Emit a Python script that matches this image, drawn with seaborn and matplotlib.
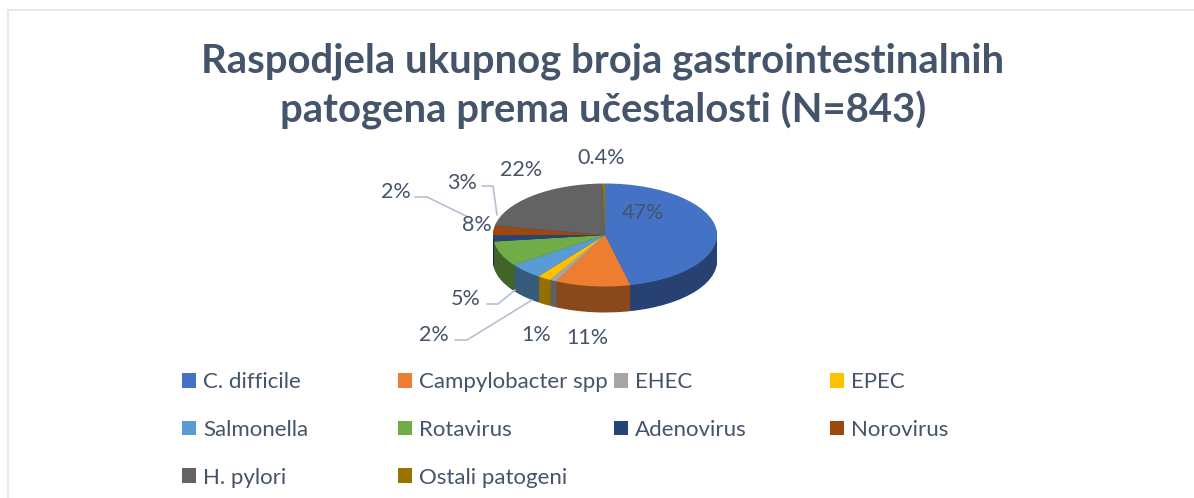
import numpy as np
import matplotlib
matplotlib.use("Agg")
import matplotlib.pyplot as plt
import matplotlib.colors as mcolors
from matplotlib.lines import Line2D
import seaborn as sns

# ---- data ----
pathogens = ["C. difficile", "Campylobacter spp", "EHEC", "EPEC", "Salmonella",
             "Rotavirus", "Adenovirus", "Norovirus", "H. pylori", "Ostali patogeni"]
shares = [47, 11, 1, 2, 5, 8, 2, 3, 22, 0.4]
share_labels = ["47%", "11%", "1%", "2%", "5%", "8%", "2%", "3%", "22%", "0.4%"]
title_lines = ["Raspodjela ukupnog broja gastrointestinalnih",
               "patogena prema učestalosti (N=843)"]

office_colors = ["#4472C4", "#ED7D31", "#A5A5A5", "#FFC000", "#5B9BD5",
                 "#70AD47", "#264478", "#9E480E", "#636363", "#997300"]

sns.set_theme(style="white")
plt.rcParams['font.family'] = ['Lato', 'DejaVu Sans']

top_colors = sns.color_palette(office_colors)
side_colors = [tuple(np.array(mcolors.to_rgb(c)) * 0.58) for c in top_colors]
text_color = "#44546A"

W, H = 1194, 498
fig = plt.figure(figsize=(W / 100, H / 100), dpi=100)
fig.patch.set_facecolor("white")


def fpos(x, y):
    # pixel position (from top-left) -> figure fraction
    return x / W, 1 - y / H


# chart frame (top and left edges visible)
fig.add_artist(Line2D([7.5 / W, 1.0], [1 - 10.5 / H] * 2, transform=fig.transFigure,
                      color="#E1E1EA", lw=1.2))
fig.add_artist(Line2D([7.5 / W] * 2, [0.0, 1 - 10.5 / H], transform=fig.transFigure,
                      color="#E1E1EA", lw=1.2))

# title
for line, yb in zip(title_lines, [72, 122]):
    fig.text(*fpos(603, yb), line, ha="center", va="baseline", fontsize=28.8,
             fontweight="bold", color=text_color)

# ---- pseudo 3D pie ----
cx, cy, rx, ry, depth = 605, 235, 112, 51.5, 26
ax = fig.add_axes([(cx - 2 * rx) / W, 1 - (cy + 3 * ry) / H, 4 * rx / W, 5 * ry / H])

for d in np.linspace(depth / ry, 0.02, 30):
    ax.pie(shares, colors=side_colors, startangle=90, counterclock=False,
           center=(0, -d), wedgeprops=dict(linewidth=0))
wedges, _ = ax.pie(shares, colors=top_colors, startangle=90, counterclock=False,
                   wedgeprops=dict(linewidth=0))
ax.set_aspect("auto")
ax.set_xlim(-2, 2)
ax.set_ylim(-3, 2)
ax.axis("off")

# data labels (placed like the Excel chart)
label_pos = [(643, 213), (587, 338), (536, 335), (434, 335), (466, 299),
             (477, 225), (396, 192), (462, 183), (521, 170), (601, 158)]
for txt, (x, y) in zip(share_labels, label_pos):
    fig.text(*fpos(x, y), txt, ha="center", va="center", fontsize=15.5, color=text_color)

leaders = [
    [(455, 340), (467, 340), (532, 300)],   # EPEC
    [(487, 304), (498, 304), (515, 290)],   # Salmonella
    [(415, 197), (427, 197), (468, 217)],   # Adenovirus
    [(482, 186), (493, 186), (497, 215)],   # Norovirus
]
for pts in leaders:
    xs = [p[0] / W for p in pts]
    ys = [1 - p[1] / H for p in pts]
    fig.add_artist(Line2D(xs, ys, transform=fig.transFigure, color="#B4C1D3", lw=1.2))

# legend: 4 fixed-width columns, row-major order as in Excel
col_x = [182, 398, 614, 830]
for j, x in enumerate(col_x):
    idx = list(range(j, len(pathogens), 4))
    fig.legend([wedges[i] for i in idx], [pathogens[i] for i in idx],
               loc="upper left", bbox_to_anchor=fpos(x, 372), frameon=False,
               fontsize=16, handlelength=0.65, handleheight=0.65, handletextpad=0.3,
               labelspacing=1.25, borderpad=0, borderaxespad=0, labelcolor=text_color)

fig.savefig("out.png", dpi=100, facecolor="white")
